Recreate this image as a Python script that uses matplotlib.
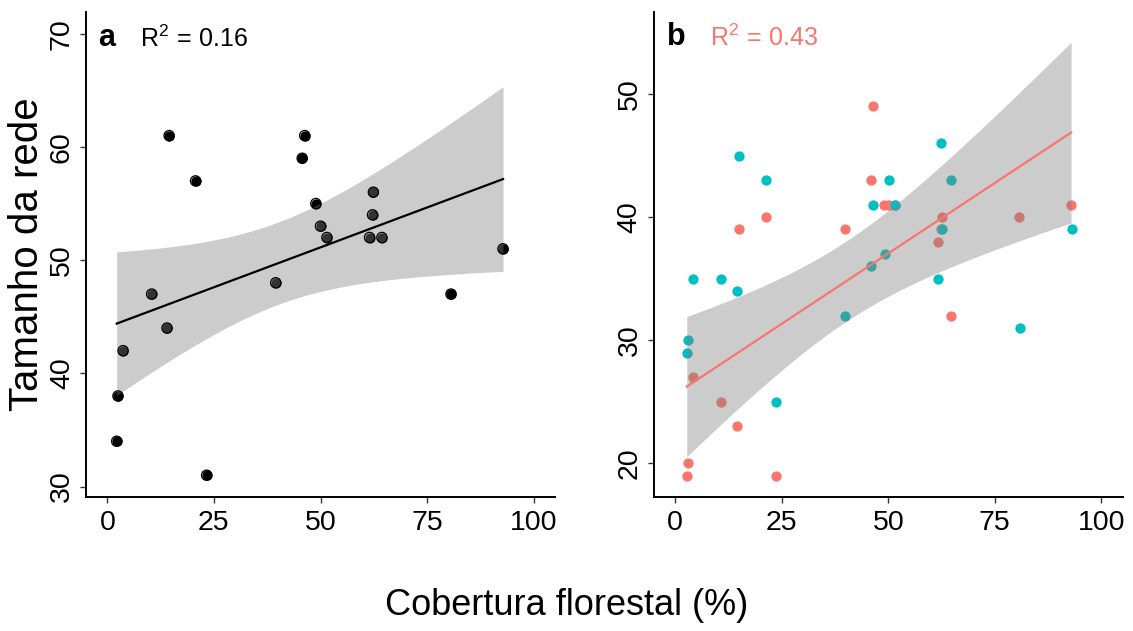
import matplotlib
matplotlib.use('Agg')
import matplotlib.pyplot as plt
import numpy as np

plt.rcParams['font.family'] = ['Liberation Sans', 'DejaVu Sans']
plt.rcParams['mathtext.fontset'] = 'custom'
plt.rcParams['mathtext.rm'] = 'Liberation Sans'
plt.rcParams['mathtext.it'] = 'Liberation Sans'
plt.rcParams['mathtext.bf'] = 'Liberation Sans:bold'

# panel a: network size vs forest cover
cover_a = [14.5, 46.3, 45.7, 20.7, 48.9, 62.4, 62.2, 50.0, 51.5, 61.5,
           64.4, 92.8, 10.4, 39.5, 80.6, 14.0, 3.7, 2.5, 2.2, 23.3]
size_a = [61, 61, 59, 57, 55, 56, 54, 53, 52, 52,
          52, 51, 47, 48, 47, 44, 42, 38, 34, 31]

# panel b: two groups (red has the fitted line)
cover_red = [2.7, 3.0, 4.1, 10.7, 14.4, 15.0, 21.2, 23.6, 39.8, 45.9,
             46.5, 49.1, 50.2, 51.5, 61.6, 62.3, 62.5, 64.6, 80.7, 92.9]
size_red = [19, 20, 27, 25, 23, 39, 40, 19, 39, 43,
            49, 41, 41, 41, 38, 39, 40, 32, 40, 41]
cover_blue = [2.7, 3.0, 4.1, 10.7, 14.4, 15.0, 21.2, 23.6, 39.8, 45.9,
              46.5, 49.2, 50.2, 51.6, 61.6, 62.4, 62.7, 64.6, 80.8, 93.0]
size_blue = [29, 30, 35, 35, 34, 45, 43, 25, 32, 36,
             41, 37, 43, 41, 35, 46, 39, 43, 31, 39]

r2_a = "0.16"
r2_b = "0.43"
x_ticks = [0, 25, 50, 75, 100]
y_ticks_a = [30, 40, 50, 60, 70]
y_ticks_b = [20, 30, 40, 50]

RED = '#F8766D'
BLUE = '#00BFC4'
T_975 = 2.101  # t quantile, df = 18


def lm_band(x, y, n_pts=80):
    x = np.asarray(x, float)
    y = np.asarray(y, float)
    b1, b0 = np.polyfit(x, y, 1)
    resid = y - (b0 + b1 * x)
    s = np.sqrt(np.sum(resid ** 2) / (len(x) - 2))
    xs = np.linspace(x.min(), x.max(), n_pts)
    fit = b0 + b1 * xs
    se = s * np.sqrt(1 / len(x) + (xs - x.mean()) ** 2 / np.sum((x - x.mean()) ** 2))
    return xs, fit, fit - T_975 * se, fit + T_975 * se


def style_axis(ax, yticks, ylim):
    ax.set_xlim(-5, 105)
    ax.set_ylim(*ylim)
    ax.set_xticks(x_ticks)
    ax.set_yticks(yticks)
    for side in ['top', 'right']:
        ax.spines[side].set_visible(False)
    for side in ['left', 'bottom']:
        ax.spines[side].set_linewidth(1.4)
    ax.tick_params(length=4, width=1.0, color='#333333', labelsize=20.5, labelcolor='black')
    ax.tick_params(axis='x', pad=5)
    ax.tick_params(axis='y', pad=4)
    for lab in ax.get_yticklabels():
        lab.set_rotation(90)
        lab.set_va('center')


fig = plt.figure(figsize=(11.33, 6.31), dpi=100)
ax1 = fig.add_axes([0.0759, 0.2119, 0.414, 0.7696])
ax2 = fig.add_axes([0.5772, 0.2119, 0.4137, 0.7696])

# panel a
ax1.scatter(cover_a, size_a, s=55, color='black', zorder=2, linewidths=0)
xs, fit, lo, hi = lm_band(cover_a, size_a)
ax1.fill_between(xs, lo, hi, color='#808080', alpha=0.4, linewidth=0, zorder=3)
ax1.scatter(cover_a, size_a, s=55, facecolors='none', edgecolors='black',
            linewidths=0.9, zorder=4)
ax1.plot(xs, fit, color='black', lw=1.6, zorder=5)
style_axis(ax1, y_ticks_a, (29.05, 71.95))
ax1.text(-2.2, 68.88, 'a', fontsize=22, fontweight='bold', va='baseline', ha='left')
ax1.text(7.7, 68.8, r'R$^2$$\,=\,$' + r2_a, fontsize=18, va='baseline', ha='left')

# panel b
ax2.scatter(cover_red, size_red, s=55, color=RED, zorder=2, linewidths=0)
ax2.scatter(cover_blue, size_blue, s=55, color=BLUE, zorder=2, linewidths=0)
xs, fit, lo, hi = lm_band(cover_red, size_red)
ax2.fill_between(xs, lo, hi, color='#808080', alpha=0.4, linewidth=0, zorder=3)
ax2.plot(xs, fit, color=RED, lw=1.6, zorder=5)
style_axis(ax2, y_ticks_b, (17.24, 56.7))
ax2.text(-1.9, 54.0, 'b', fontsize=22, fontweight='bold', va='baseline', ha='left')
ax2.text(8.2, 53.9, r'R$^2$$\,=\,$' + r2_b, fontsize=18, va='baseline', ha='left', color=RED)

fig.text(27 / 1133, 0.597, 'Tamanho da rede', rotation=90, fontsize=29,
         ha='center', va='center')
fig.text(0.5, 0.041, 'Cobertura florestal (%)', fontsize=26, ha='center', va='center')

fig.savefig('out.png', dpi=100)
plt.close(fig)
